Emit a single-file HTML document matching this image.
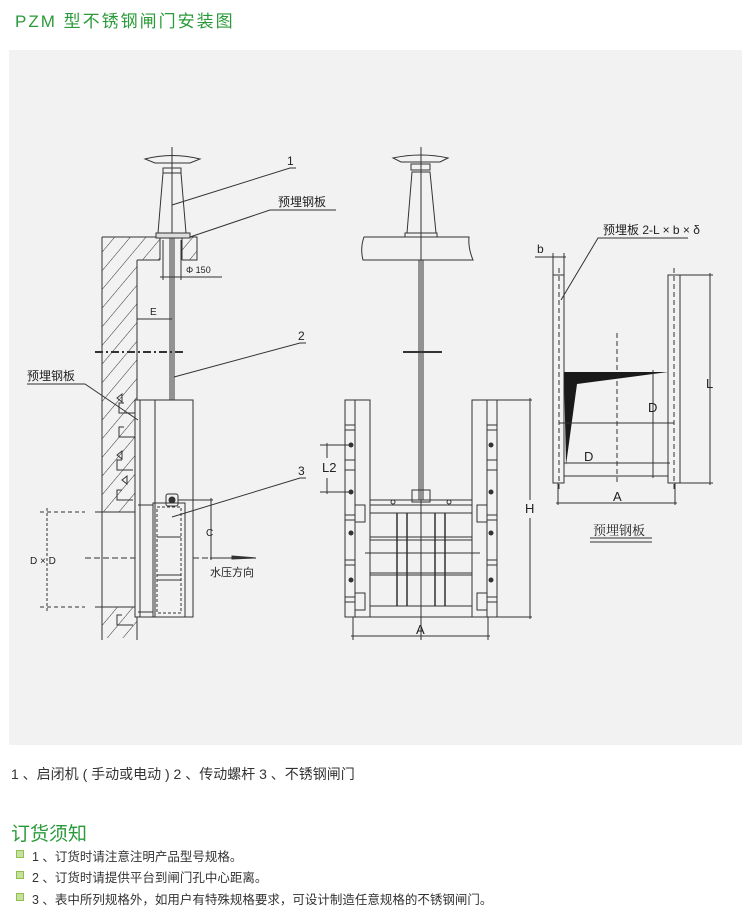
<!DOCTYPE html>
<html><head><meta charset="utf-8">
<style>
body{margin:0;width:750px;height:916px;background:#fff;font-family:"Liberation Sans","Noto Sans CJK SC",sans-serif;position:relative;overflow:hidden}
.t{position:absolute;white-space:nowrap}
</style></head><body>
<div class="t" style="left:15px;top:7px;font-size:17px;color:#2a9a3a;letter-spacing:2px">PZM 型不锈钢闸门安装图</div>
<svg style="position:absolute;left:0;top:0" width="750" height="916" viewBox="0 0 750 916" font-family="Liberation Sans,Noto Sans CJK SC,sans-serif">
<defs>
<pattern id="h" width="12" height="12" patternUnits="userSpaceOnUse" patternTransform="rotate(40)">
<line x1="0" y1="0" x2="0" y2="12" stroke="#333" stroke-width="1"/></pattern>
</defs>
<rect x="9" y="50" width="733" height="695" fill="#f2f2f2"/>
<g stroke="#333" fill="none" stroke-width="1">
<!-- LEFT VIEW -->
<rect x="102" y="237" width="35" height="275" fill="url(#h)" stroke="none"/>
<rect x="137" y="237" width="23" height="23" fill="url(#h)" stroke="none"/>
<rect x="182" y="237" width="15" height="23" fill="url(#h)" stroke="none"/>
<rect x="102" y="607" width="35" height="31" fill="url(#h)" stroke="none"/>
<path d="M102 237H197V260H182M160 260H137"/>
<line x1="160" y1="237" x2="160" y2="260"/><line x1="182" y1="237" x2="182" y2="260"/>
<line x1="102" y1="237" x2="102" y2="640"/><line x1="137" y1="260" x2="137" y2="640"/>
<line x1="95" y1="512" x2="137" y2="512"/><line x1="95" y1="607" x2="137" y2="607"/>
<line x1="40" y1="512" x2="85" y2="512" stroke-dasharray="4 3"/><line x1="40" y1="607" x2="85" y2="607" stroke-dasharray="4 3"/>
<line x1="47" y1="508" x2="47" y2="611" stroke-dasharray="3 2"/>
<line x1="85" y1="558" x2="232" y2="558" stroke-dasharray="6 3"/>
<path d="M210 558H256" /><path d="M232 556L256 558L232 559Z" fill="#333"/>
<line x1="172" y1="147" x2="172" y2="500"/>
<path d="M145 159Q172 152 200 159L190 163H155Z"/>
<rect x="163" y="168" width="18" height="5"/>
<path d="M163 173L158 233H186L181 173Z"/>
<rect x="156" y="233" width="34" height="5" fill="#ddd"/>
<line x1="170" y1="238" x2="170" y2="500"/><line x1="174" y1="238" x2="174" y2="500"/>
<line x1="163" y1="240" x2="163" y2="280"/><line x1="181" y1="240" x2="181" y2="280"/>
<line x1="160" y1="277" x2="222" y2="277"/>
<line x1="95" y1="352" x2="183" y2="352" stroke-width="2" stroke-dasharray="8 3 2 3"/>
<line x1="137" y1="319" x2="172" y2="319"/>
<rect x="135" y="400" width="58" height="217" fill="#f2f2f2"/>
<line x1="155" y1="400" x2="155" y2="617"/><line x1="140" y1="400" x2="140" y2="617"/>
<rect x="153" y="503" width="32" height="114"/>
<rect x="157" y="507" width="24" height="106" stroke-dasharray="3 2"/>
<line x1="157" y1="537" x2="181" y2="537"/><line x1="157" y1="575" x2="181" y2="575"/><line x1="157" y1="580" x2="181" y2="580"/>
<line x1="138" y1="505" x2="153" y2="505"/><line x1="138" y1="612" x2="153" y2="612"/>
<rect x="166" y="494" width="12" height="12" rx="2"/>
<circle cx="172" cy="500" r="3" fill="#333"/>
<line x1="178" y1="500" x2="213" y2="500"/>
<line x1="211" y1="498" x2="211" y2="560"/>
<path d="M117 398l5 -4v8z M117 455l5 -4v8z M122 480l5 -4v8z"/>
<path d="M124 403h-5v10h16 M124 427h-5v10h16 M122 460h-5v10h16 M122 490h-5v10h16 M122 615h-5v10h16"/>
<path d="M172 205L290 168H296"/>
<path d="M190 237L270 210H336"/>
<path d="M174 377L300 343H306"/>
<path d="M172 517L300 478H306"/>
<path d="M27 384H85L138 420"/>
<!-- MIDDLE VIEW -->
<line x1="421" y1="147" x2="421" y2="640"/>
<path d="M393 158Q421 152 448 158L440 162H401Z"/>
<rect x="411" y="164" width="19" height="6"/>
<path d="M412 172L407 233H436L430 172Z"/>
<rect x="405" y="233" width="32" height="4"/>
<path d="M364 237H469Q468 248 473 260H363Q360 248 364 237Z"/>
<line x1="419" y1="260" x2="419" y2="500"/><line x1="423" y1="260" x2="423" y2="500"/>
<line x1="403" y1="352" x2="442" y2="352" stroke-width="2"/>
<rect x="345" y="400" width="25" height="217"/><line x1="355" y1="400" x2="355" y2="617"/>
<rect x="472" y="400" width="25" height="217"/><line x1="487" y1="400" x2="487" y2="617"/>
<path d="M345 425h10M345 430h10M345 460h10M345 470h10M345 515h10M345 520h10M345 560h10M345 565h10M345 597h10M345 602h10"/>
<path d="M487 425h10M487 430h10M487 460h10M487 470h10M487 515h10M487 520h10M487 560h10M487 565h10M487 597h10M487 602h10"/>
<rect x="355" y="505" width="10" height="17"/><rect x="477" y="505" width="10" height="17"/>
<rect x="355" y="593" width="10" height="17"/><rect x="477" y="593" width="10" height="17"/>
<rect x="370" y="500" width="102" height="117"/>
<path d="M370 505H472M370 513H472M370 537H472M370 540H472M370 573H472M370 575H472M370 606H472M365 553H480"/>
<path d="M397 513V606M407 513V606M435 513V606M445 513V606" stroke-width="1.5"/>
<rect x="412" y="490" width="18" height="12"/>
<circle cx="393" cy="502" r="2"/><circle cx="449" cy="502" r="2"/>
<line x1="497" y1="400" x2="532" y2="400"/><line x1="497" y1="617" x2="532" y2="617"/>
<line x1="530" y1="398" x2="530" y2="500"/><line x1="530" y1="518" x2="530" y2="619"/>
<line x1="353" y1="617" x2="353" y2="640"/><line x1="488" y1="617" x2="488" y2="640"/>
<line x1="351" y1="636" x2="490" y2="636"/>
<line x1="320" y1="445" x2="351" y2="445"/><line x1="320" y1="492" x2="351" y2="492"/>
<line x1="327" y1="443" x2="327" y2="458"/><line x1="327" y1="478" x2="327" y2="494"/>
<g fill="#333" stroke="none"><circle cx="351" cy="445" r="2.5"/><circle cx="351" cy="492" r="2.5"/><circle cx="351" cy="533" r="2.5"/><circle cx="351" cy="580" r="2.5"/><circle cx="491" cy="445" r="2.5"/><circle cx="491" cy="492" r="2.5"/><circle cx="491" cy="533" r="2.5"/><circle cx="491" cy="580" r="2.5"/></g>
<!-- RIGHT VIEW -->
<rect x="553" y="275" width="11" height="208"/>
<rect x="668" y="275" width="12" height="208"/>
<line x1="559" y1="268" x2="559" y2="490" stroke-dasharray="5 3"/>
<line x1="674" y1="268" x2="674" y2="490" stroke-dasharray="5 3"/>
<line x1="617" y1="333" x2="617" y2="482" stroke-dasharray="5 3"/>
<path d="M564 372L668 372L577 384L566 465Z" fill="#1a1a1a" stroke="none"/>
<line x1="559" y1="423" x2="674" y2="423"/>
<line x1="564" y1="463" x2="670" y2="463"/>
<line x1="564" y1="476" x2="668" y2="476"/>
<line x1="653" y1="370" x2="653" y2="478"/>
<line x1="680" y1="275" x2="713" y2="275"/><line x1="680" y1="483" x2="713" y2="483"/>
<line x1="710" y1="273" x2="710" y2="485"/>
<line x1="558" y1="483" x2="558" y2="505"/><line x1="675" y1="483" x2="675" y2="505"/>
<line x1="556" y1="503" x2="677" y2="503"/>
<line x1="535" y1="257" x2="566" y2="257"/>
<line x1="553" y1="253" x2="553" y2="275"/><line x1="564" y1="253" x2="564" y2="275"/>
<path d="M688 238H598L561 300"/>
<line x1="590" y1="538" x2="652" y2="538"/><line x1="590" y1="542" x2="652" y2="542"/>
</g>
<g fill="#222" font-size="12">
<text x="287" y="165">1</text>
<text x="278" y="206">预埋钢板</text>
<text x="298" y="340">2</text>
<text x="298" y="475">3</text>
<text x="27" y="380">预埋钢板</text>
<text x="150" y="315" font-size="10">E</text>
<text x="186" y="273" font-size="9">Φ 150</text>
<text x="206" y="536" font-size="10">C</text>
<text x="30" y="564" font-size="10">D × D</text>
<text x="210" y="576" font-size="11">水压方向</text>
<text x="322" y="472" font-size="13">L2</text>
<text x="525" y="513" font-size="13">H</text>
<text x="416" y="634" font-size="13">A</text>
<text x="603" y="234" font-size="12">预埋板 2-L × b × δ</text>
<text x="537" y="253" font-size="12">b</text>
<text x="648" y="412" font-size="13">D</text>
<text x="584" y="461" font-size="13">D</text>
<text x="706" y="388" font-size="13">L</text>
<text x="613" y="501" font-size="13">A</text>
<text x="593" y="535" font-size="13" font-family="Liberation Serif,Noto Serif CJK SC,serif">预埋钢板</text>
</g>
<g fill="#c6e0a0" stroke="#8fbf4f">
<rect x="16.5" y="850.5" width="7" height="7"/><rect x="16.5" y="871.5" width="7" height="7"/><rect x="16.5" y="893.5" width="7" height="7"/>
</g>
</svg>
<div class="t" style="left:11px;top:764px;font-size:14px;color:#333">1 、启闭机 ( 手动或电动 ) 2 、传动螺杆 3 、不锈钢闸门</div>
<div class="t" style="left:11px;top:819px;font-size:19px;color:#2a9a3a">订货须知</div>
<div class="t" style="left:32px;top:846px;font-size:12.5px;color:#333">1 、订货时请注意注明产品型号规格。</div>
<div class="t" style="left:32px;top:867px;font-size:12.5px;color:#333">2 、订货时请提供平台到闸门孔中心距离。</div>
<div class="t" style="left:32px;top:889px;font-size:12.5px;color:#333">3 、表中所列规格外，如用户有特殊规格要求，可设计制造任意规格的不锈钢闸门。</div>
</body></html>
